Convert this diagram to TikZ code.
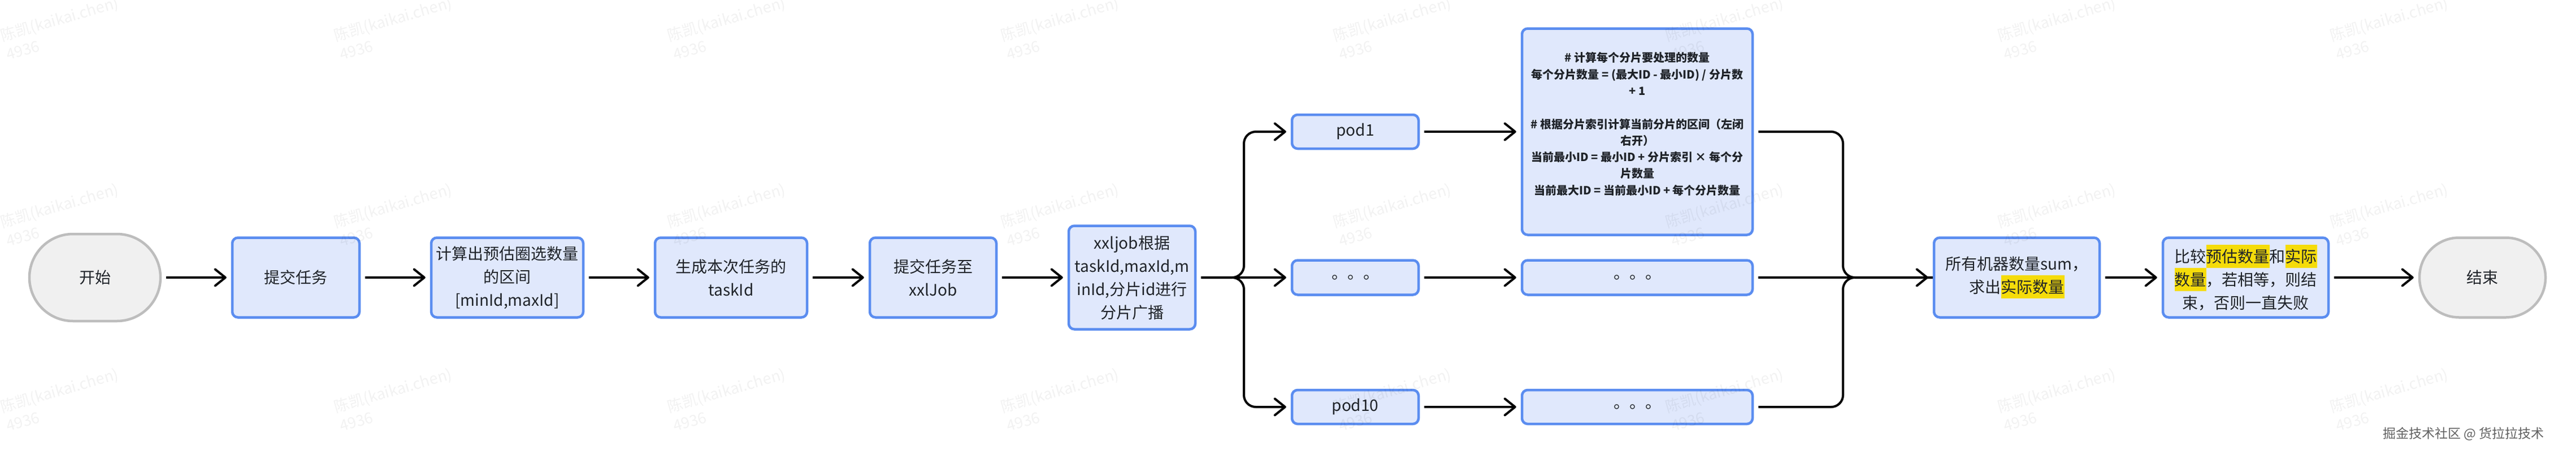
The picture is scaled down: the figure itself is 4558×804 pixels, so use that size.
\documentclass[tikz,border=0pt]{standalone}
\usepackage{fontspec}
\setmainfont{Noto Sans CJK SC}
\usetikzlibrary{arrows.meta}
\definecolor{boxfill}{HTML}{E0E8FC}
\definecolor{boxline}{HTML}{5B8DF0}
\definecolor{greyfill}{HTML}{F0F0F0}
\definecolor{greyline}{HTML}{BDBDBD}
\definecolor{hlyellow}{HTML}{F5DC0A}
\definecolor{inkdark}{HTML}{1F2329}
\newcommand{\hlmark}[1]{\setlength{\fboxsep}{0pt}\colorbox{hlyellow}{\vrule width 0pt height 32pt depth 9pt #1}}
\tikzset{
	flowbox/.style 2 args={draw=boxline,fill=boxfill,line width=4.5pt,rounded corners=10pt,
		minimum width=#1pt,minimum height=#2pt,inner sep=0pt,align=center,text=inkdark,
		font=\fontsize{28}{41}\selectfont},
	noteline/.style={font=\fontsize{20}{29.3}\selectfont\bfseries},
	endcap/.style n args={3}{draw=greyline,fill=greyfill,line width=4.5pt,rounded corners=#3pt,
		minimum width=#1pt,minimum height=#2pt,inner sep=0pt,text=inkdark,
		font=\fontsize{28}{41}\selectfont},
	flowarrow/.style={line width=4pt,shorten >=8pt,shorten <=8pt,
		-{Straight Barb[length=18pt,width=29pt,line width=4pt,round]}},
	flowjoin/.style={line width=4pt,shorten <=8pt,rounded corners=21pt},
	watermark/.style={anchor=north west,inner sep=0pt,rotate=16,align=left,text=black,text opacity=0.05,
		font=\fontsize{27}{35}\selectfont},
}
\begin{document}
\begin{tikzpicture}[x=1pt,y=-1pt]
	\useasboundingbox (0,0) rectangle (4558,804);
	\node[endcap={232}{154}{77}] (start) at (168,491) {开始};
	\node[flowbox={225}{141}] (submit) at (523.5,491) {提交任务};
	\node[flowbox={269}{141}] (range) at (897.5,491) {计算出预估圈选数量\\的区间\\{[minId,maxId]}};
	\node[flowbox={269}{141}] (taskid) at (1293.5,491) {生成本次任务的\\taskId};
	\node[flowbox={224}{141}] (tojob) at (1651,491) {提交任务至\\xxlJob};
	\node[flowbox={224}{183}] (xxljob) at (2003,491) {xxljob根据\\taskId,maxId,m\\inId,分片id进行\\分片广播};
	\node[flowbox={224}{60}] (pod1) at (2398,233) {pod1};
	\node[flowbox={224}{61}] (podmid) at (2398,491) {。。。};
	\node[flowbox={224}{60}] (pod10) at (2398,720) {pod10};
	\node[flowbox={408}{365},noteline] (calc1) at (2897,233) {\# 计算每个分片要处理的数量\\每个分片数量 = (最大ID - 最小ID) / 分片数\\+ 1\\~\\\# 根据分片索引计算当前分片的区间（左闭\\右开）\\当前最小ID = 最小ID + 分片索引 × 每个分\\片数量\\当前最大ID = 当前最小ID + 每个分片数量\\~};
	\node[flowbox={408}{61}] (calcmid) at (2897,491) {。。。};
	\node[flowbox={408}{60}] (calc10) at (2897,720) {。。。};
	\node[flowbox={293}{141}] (sum) at (3568.5,491) {所有机器数量sum，\\求出\hlmark{实际数量}};
	\node[flowbox={293}{141}] (compare) at (3973.5,491) {比较\hlmark{预估数量}和\hlmark{实际}\\\hlmark{数量}，若相等，则结\\束，否则一直失败};
	\node[endcap={223}{141}{70}] (finish) at (4392.5,491) {结束};
	\coordinate (split) at (2201,491);
	\coordinate (join) at (3261,491);
	\draw[flowarrow] (start) -- (submit);
	\draw[flowarrow] (submit) -- (range);
	\draw[flowarrow] (range) -- (taskid);
	\draw[flowarrow] (taskid) -- (tojob);
	\draw[flowarrow] (tojob) -- (xxljob);
	\draw[flowarrow,rounded corners=21pt] (xxljob.east) -- (split) |- (pod1.west);
	\draw[flowarrow] (xxljob) -- (podmid);
	\draw[flowarrow,rounded corners=21pt] (xxljob.east) -- (split) |- (pod10.west);
	\draw[flowarrow] (pod1) -- (calc1);
	\draw[flowarrow] (podmid) -- (calcmid);
	\draw[flowarrow] (pod10) -- (calc10);
	\draw[flowjoin] (calc1.east) -| (join) -- (sum.west);
	\draw[flowarrow] (calcmid) -- (sum);
	\draw[flowjoin] (calc10.east) -| (join) -- (sum.west);
	\draw[flowarrow] (sum) -- (compare);
	\draw[flowarrow] (compare) -- (finish);
	\foreach \wx in {-2,588,1178,1768,2356,2944,3532,4120}
		\foreach \wy in {51,381,708}
			\node[watermark] at (\wx,\wy) {陈凯(kaikai.chen)\\4936};
	\node[anchor=east,inner sep=0pt,text=black!62,font=\fontsize{23}{30}\selectfont] (credit) at (4502,768) {掘金技术社区 @ 货拉拉技术};
\end{tikzpicture}
\end{document}
